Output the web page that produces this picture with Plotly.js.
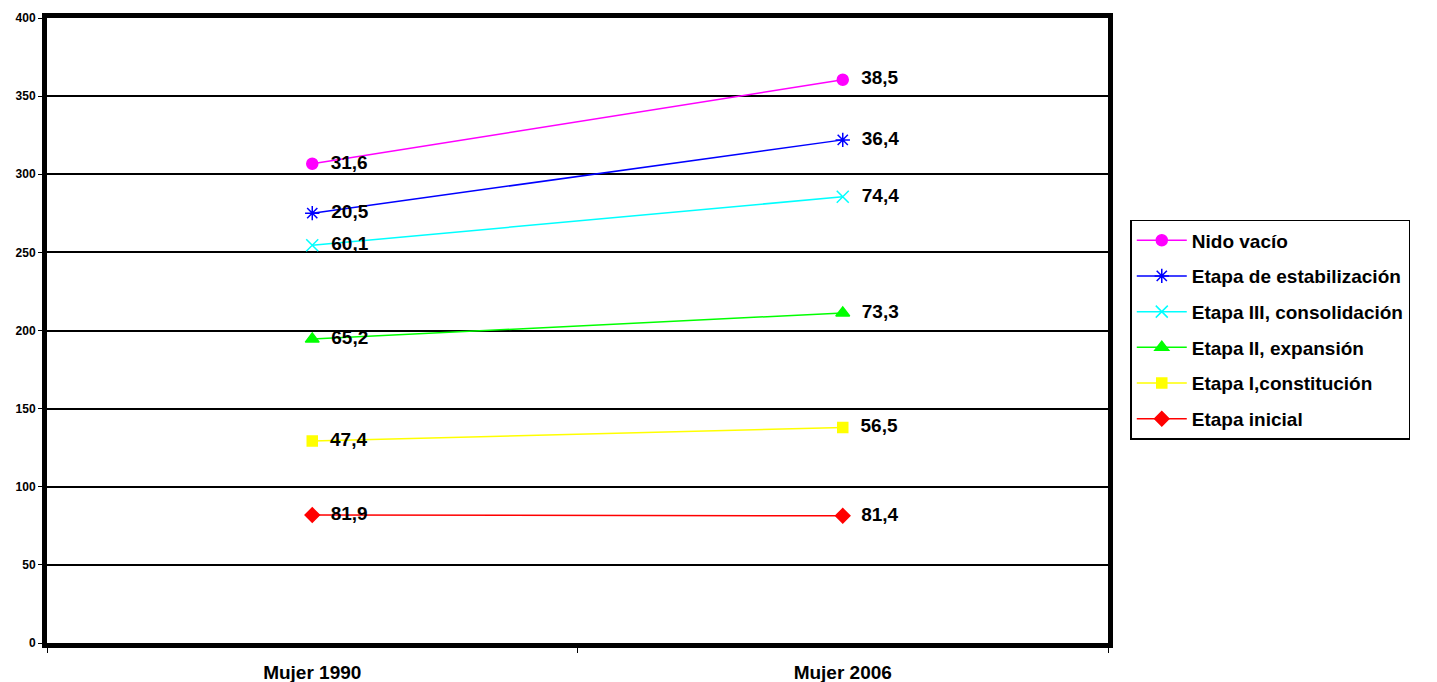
<!DOCTYPE html>
<html>
<head>
<meta charset="utf-8">
<script src="https://cdn.plot.ly/plotly-3.0.1.min.js"></script>
<style>
  html, body { margin: 0; padding: 0; background: #fff; }
  #chart { width: 1437px; height: 682px; }
</style>
</head>
<body>
<div id="chart"></div>
<script>
// Categories on the x axis
const categories = ['Mujer 1990', 'Mujer 2006'];

// Series values per family stage (stacked on top of each other)
const etapaInicial = [81.9, 81.4];
const etapaI = [47.4, 56.5];
const etapaII = [65.2, 73.3];
const etapaIII = [60.1, 74.4];
const etapaEstabilizacion = [20.5, 36.4];
const nidoVacio = [31.6, 38.5];

// Y axis ticks
const yTicks = [0, 50, 100, 150, 200, 250, 300, 350, 400];

const seriesDefs = [
  { name: 'Etapa inicial', values: etapaInicial, color: '#FF0000', symbol: 'diamond', size: 11 },
  { name: 'Etapa I,constitución', values: etapaI, color: '#FFFF00', symbol: 'square', size: 10 },
  { name: 'Etapa II, expansión', values: etapaII, color: '#00FF00', symbol: 'triangle-up', size: 12 },
  { name: 'Etapa III, consolidación', values: etapaIII, color: '#00FFFF', symbol: 'x-thin-open', size: 12 },
  { name: 'Etapa de estabilización', values: etapaEstabilizacion, color: '#0000FF', symbol: 'asterisk-open', size: 12 },
  { name: 'Nido vacío', values: nidoVacio, color: '#FF00FF', symbol: 'circle', size: 11 }
];

// Decimal comma, padded a little away from the marker
const fmt = v => '\u00A0\u00A0' + v.toFixed(1).replace('.', ',');

const traces = seriesDefs.map((s, i) => ({
  type: 'scatter',
  mode: 'lines+markers+text',
  name: s.name,
  legendgroup: s.name,
  legendrank: 100 - i,
  x: categories,
  y: s.values,
  stackgroup: 'etapas',
  fill: 'none',
  line: { color: s.color, width: 1.5 },
  marker: { color: s.color, symbol: s.symbol, size: s.size, line: { color: s.color, width: 1.5 } },
  text: s.values.map(fmt),
  textposition: 'middle right',
  textfont: { family: 'Liberation Sans, Arial, sans-serif', size: 19, weight: 'bold', color: '#000' },
  cliponaxis: false,
  hoverinfo: 'skip'
}));

const layout = {
  width: 1437,
  height: 682,
  margin: { l: 47, r: 329, t: 18, b: 39 },
  paper_bgcolor: '#fff',
  plot_bgcolor: '#fff',
  font: { family: 'Liberation Sans, Arial, sans-serif', color: '#000', weight: 'bold' },
  showlegend: true,
  hovermode: false,
  xaxis: {
    type: 'category',
    range: [-0.5, 1.5],
    showgrid: false,
    showline: true,
    linecolor: '#000',
    linewidth: 5,
    mirror: true,
    ticks: 'outside',
    tickson: 'boundaries',
    ticklen: 5,
    tickwidth: 1,
    tickcolor: '#000',
    ticklabelstandoff: 8,
    tickfont: { size: 19, weight: 'bold' },
    zeroline: false
  },
  yaxis: {
    range: [0, 400],
    tickvals: yTicks,
    showgrid: true,
    gridcolor: '#000',
    gridwidth: 2,
    showline: true,
    linecolor: '#000',
    linewidth: 5,
    mirror: true,
    ticks: 'outside',
    ticklen: 4,
    tickwidth: 1,
    tickcolor: '#000',
    tickfont: { size: 12, weight: 'bold' },
    zeroline: false
  },
  legend: {
    x: 1.021,
    xanchor: 'left',
    y: 0.677,
    yanchor: 'top',
    traceorder: 'grouped',
    tracegroupgap: 8,
    bordercolor: '#000',
    borderwidth: 1.5,
    bgcolor: '#fff',
    font: { size: 19, weight: 'bold' },
    itemwidth: 50
  }
};

Plotly.newPlot('chart', traces, layout, { displayModeBar: false, staticPlot: true });
</script>
</body>
</html>
